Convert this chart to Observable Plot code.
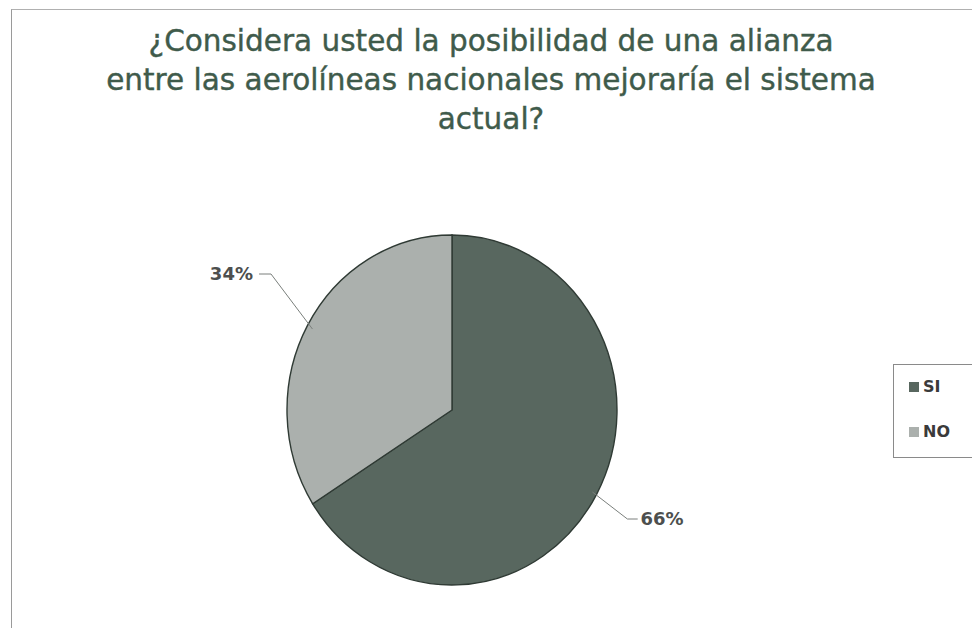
<!DOCTYPE html>
<html><head><meta charset="utf-8">
<script src="https://cdn.jsdelivr.net/npm/d3@7"></script>
<script src="https://cdn.jsdelivr.net/npm/@observablehq/plot@0.6"></script>
<style>
body{margin:0;background:#fff;}
#wrap{position:relative;width:972px;height:628px;overflow:hidden;font-family:"DejaVu Sans",sans-serif;background:#fff;}
#frame{position:absolute;left:11px;top:9px;width:1000px;height:700px;border-left:1.5px solid #9a9a9a;border-top:1.5px solid #b0b0b0;}
#title{position:absolute;left:0;top:22px;width:982px;text-align:center;font-size:29.5px;line-height:39px;color:#3f5b4b;-webkit-text-stroke:0.4px #3f5b4b;}
#chart{position:absolute;left:0;top:0;}
#legend{position:absolute;left:893px;top:364px;width:120px;height:92px;border:1.3px solid #8a8a8a;background:#fff;}
.item{position:absolute;left:15px;display:flex;align-items:center;font-weight:bold;font-size:16px;color:#3a3a3a;}
.sw{width:10px;height:10px;margin-right:4px;}
</style></head>
<body><div id="wrap"><div id="frame"></div><div id="title"></div><div id="chart"></div><div id="legend"></div></div>
<script>
const titleLines = ["¿Considera usted la posibilidad de una alianza", "entre las aerolíneas nacionales mejoraría el sistema", "actual?"];
const categories = ["SI", "NO"];
const values = [66, 34];
const colors = ["#58675f", "#abb0ad"];

document.getElementById("title").innerHTML = titleLines.join("<br>");

const data = categories.map((c, i) => ({label: c, value: values[i]}));
const pie = d3.pie().sort(null).value(d => d.value)(data);
// leader line layout (in pie radius units)
const labelLayout = {
  SI: {elbow: [1.06, -0.62], text: [1.27, -0.62]},
  NO: {elbow: [-1.10, 0.78], text: [-1.34, 0.78]}
};
const mid = a => (a.startAngle + a.endAngle) / 2;
const edge = a => [Math.sin(mid(a)), Math.cos(mid(a))];
const leaders = pie.flatMap(a => {
  const e = edge(a), L = labelLayout[a.data.label];
  const tail = [L.text[0] > 0 ? L.text[0] - 0.15 : L.text[0] + 0.17, L.elbow[1]];
  return [
    {k: a.data.label, x: e[0] * 0.97, y: e[1] * 0.97},
    {k: a.data.label, x: L.elbow[0], y: L.elbow[1]},
    {k: a.data.label, x: tail[0], y: tail[1]}
  ];
});
const labels = pie.map(a => ({label: a.data.value + "%", x: labelLayout[a.data.label].text[0], y: labelLayout[a.data.label].text[1]}));

const Rx = 165, Ry = 175, cx = 452, cy = 410;
const plot = Plot.plot({
  width: 972, height: 628,
  marginLeft: cx - Rx, marginRight: 972 - cx - Rx, marginTop: cy - Ry, marginBottom: 628 - cy - Ry,
  x: {domain: [-1, 1], axis: null},
  y: {domain: [-1, 1], axis: null},
  color: {domain: categories, range: colors},
  style: {fontFamily: "DejaVu Sans, sans-serif", background: "transparent"},
  marks: [
    Plot.dot(pie, {x: () => 0, y: () => 0, fill: d => d.data.label,
      render: (index, scales, vals, dims, context) => {
        const g = d3.create("svg:g");
        const x0 = scales.x(0), y0 = scales.y(0);
        const rx = scales.x(1) - x0, ry = y0 - scales.y(1);
        const arc = d3.arc().innerRadius(0).outerRadius(rx);
        g.selectAll("path").data(index).join("path")
          .attr("transform", `translate(${x0},${y0}) scale(1,${ry / rx})`)
          .attr("d", i => arc(pie[i]))
          .attr("fill", i => vals.fill[i])
          .attr("vector-effect", "non-scaling-stroke")
          .attr("stroke", "#2f3a34").attr("stroke-width", 1.4);
        return g.node();
      }}),
    Plot.line(leaders, {x: "x", y: "y", z: "k", stroke: "#7a7f7c", strokeWidth: 1}),
    Plot.text(labels, {x: "x", y: "y", text: "label", fontSize: 18, fontWeight: "bold", fill: "#4d4f4e"})
  ]
});
document.getElementById("chart").appendChild(plot);

const leg = document.getElementById("legend");
categories.forEach((c, i) => {
  const d = document.createElement("div");
  d.className = "item";
  d.style.top = (i === 0 ? 12 : 57) + "px";
  d.innerHTML = `<span class="sw" style="background:${plot.scale("color").apply(c)}"></span>${c}`;
  leg.appendChild(d);
});
</script></body></html>
